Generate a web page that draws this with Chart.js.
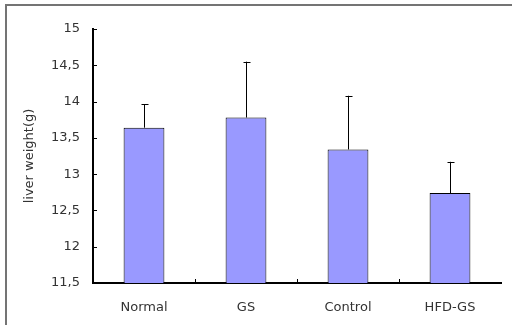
<!DOCTYPE html>
<html>
<head>
<meta charset="utf-8">
<script src="https://cdn.jsdelivr.net/npm/chart.js@4"></script>
<style>
  html, body { margin: 0; padding: 0; background: #fff; }
  #wrap { width: 512px; height: 325px; }
</style>
</head>
<body>
<div id="wrap"><canvas id="liverChart" width="512" height="325"></canvas></div>
<script>
// Groups and values
const groups = ["Normal", "GS", "Control", "HFD-GS"];
const liverWeight = [13.64, 13.78, 13.34, 12.74];
const liverError = [0.32, 0.77, 0.74, 0.43];   // upper error bar only
const yTickValues = [11.5, 12, 12.5, 13, 13.5, 14, 14.5, 15];
const yTickLabels = ["11,5", "12", "12,5", "13", "13,5", "14", "14,5", "15"];

const textFont = { family: "DejaVu Sans", size: 13 };
const textColor = "#333";

// grey frame round the picture (only top and left edges are visible)
const framePlugin = {
    id: "frame",
    beforeDraw(chart) {
        const c = chart.ctx;
        c.save();
        c.fillStyle = "#fff";
        c.fillRect(0, 0, chart.width, chart.height);
        c.strokeStyle = "#747474";
        c.lineWidth = 2;
        c.strokeRect(6, 5, 700, 700);
        c.restore();
    }
};

// inward tick marks and error bars
const marksPlugin = {
    id: "marks",
    afterDatasetsDraw(chart) {
        const c = chart.ctx;
        const x = chart.scales.x, y = chart.scales.y;
        const area = chart.chartArea;
        c.save();
        c.strokeStyle = "#000";
        c.lineWidth = 1;

        // y ticks pointing right
        yTickValues.forEach(v => {
            const py = Math.round(y.getPixelForValue(v)) + 0.5;
            c.beginPath();
            c.moveTo(area.left, py);
            c.lineTo(area.left + 4, py);
            c.stroke();
        });
        // x ticks between categories, pointing up
        for (let i = 0; i < groups.length - 1; i++) {
            const px = Math.round((x.getPixelForValue(i) + x.getPixelForValue(i + 1)) / 2) + 0.5;
            c.beginPath();
            c.moveTo(px, area.bottom);
            c.lineTo(px, area.bottom - 4);
            c.stroke();
        }

        // error bars
        const meta = chart.getDatasetMeta(0);
        meta.data.forEach((bar, i) => {
            const px = Math.round(bar.x) + 0.5;
            const top = y.getPixelForValue(liverWeight[i] + liverError[i]);
            c.beginPath();
            c.moveTo(px, bar.y);
            c.lineTo(px, top);
            c.moveTo(px - 3, Math.round(top) + 0.5);
            c.lineTo(px + 4, Math.round(top) + 0.5);
            c.stroke();
        });
        c.restore();
    }
};

const ctx = document.getElementById("liverChart").getContext("2d");
const liverChart = new Chart(ctx, {
    type: "bar",
    data: {
        labels: groups,
        datasets: [{
            label: "liver weight",
            data: liverWeight,
            backgroundColor: "#9999ff",
            borderColor: "#000",
            borderWidth: 1,
            borderSkipped: "bottom",
            categoryPercentage: 1,
            barPercentage: 0.4
        }]
    },
    options: {
        responsive: false,
        animation: false,
        layout: { padding: { left: 20, top: 29, right: 11, bottom: 0 } },
        plugins: {
            legend: { display: false },
            tooltip: { enabled: false }
        },
        scales: {
            x: {
                grid: { display: false, drawTicks: false },
                border: { color: "#000", width: 2 },
                ticks: { color: textColor, font: textFont, padding: 17 },
                afterFit: s => { s.height = 42; }
            },
            y: {
                min: 11.5,
                max: 15,
                grid: { display: false, drawTicks: false },
                border: { color: "#000", width: 2 },
                afterBuildTicks: s => { s.ticks = yTickValues.map(v => ({ value: v })); },
                ticks: {
                    color: textColor,
                    font: textFont,
                    padding: 13,
                    callback: v => yTickLabels[yTickValues.indexOf(v)]
                },
                title: {
                    display: true,
                    text: "liver weight(g)",
                    color: textColor,
                    font: textFont,
                    padding: { top: 2, bottom: 0 }
                },
                afterFit: s => { s.width = 73; }
            }
        }
    },
    plugins: [framePlugin, marksPlugin]
});
</script>
</body>
</html>
